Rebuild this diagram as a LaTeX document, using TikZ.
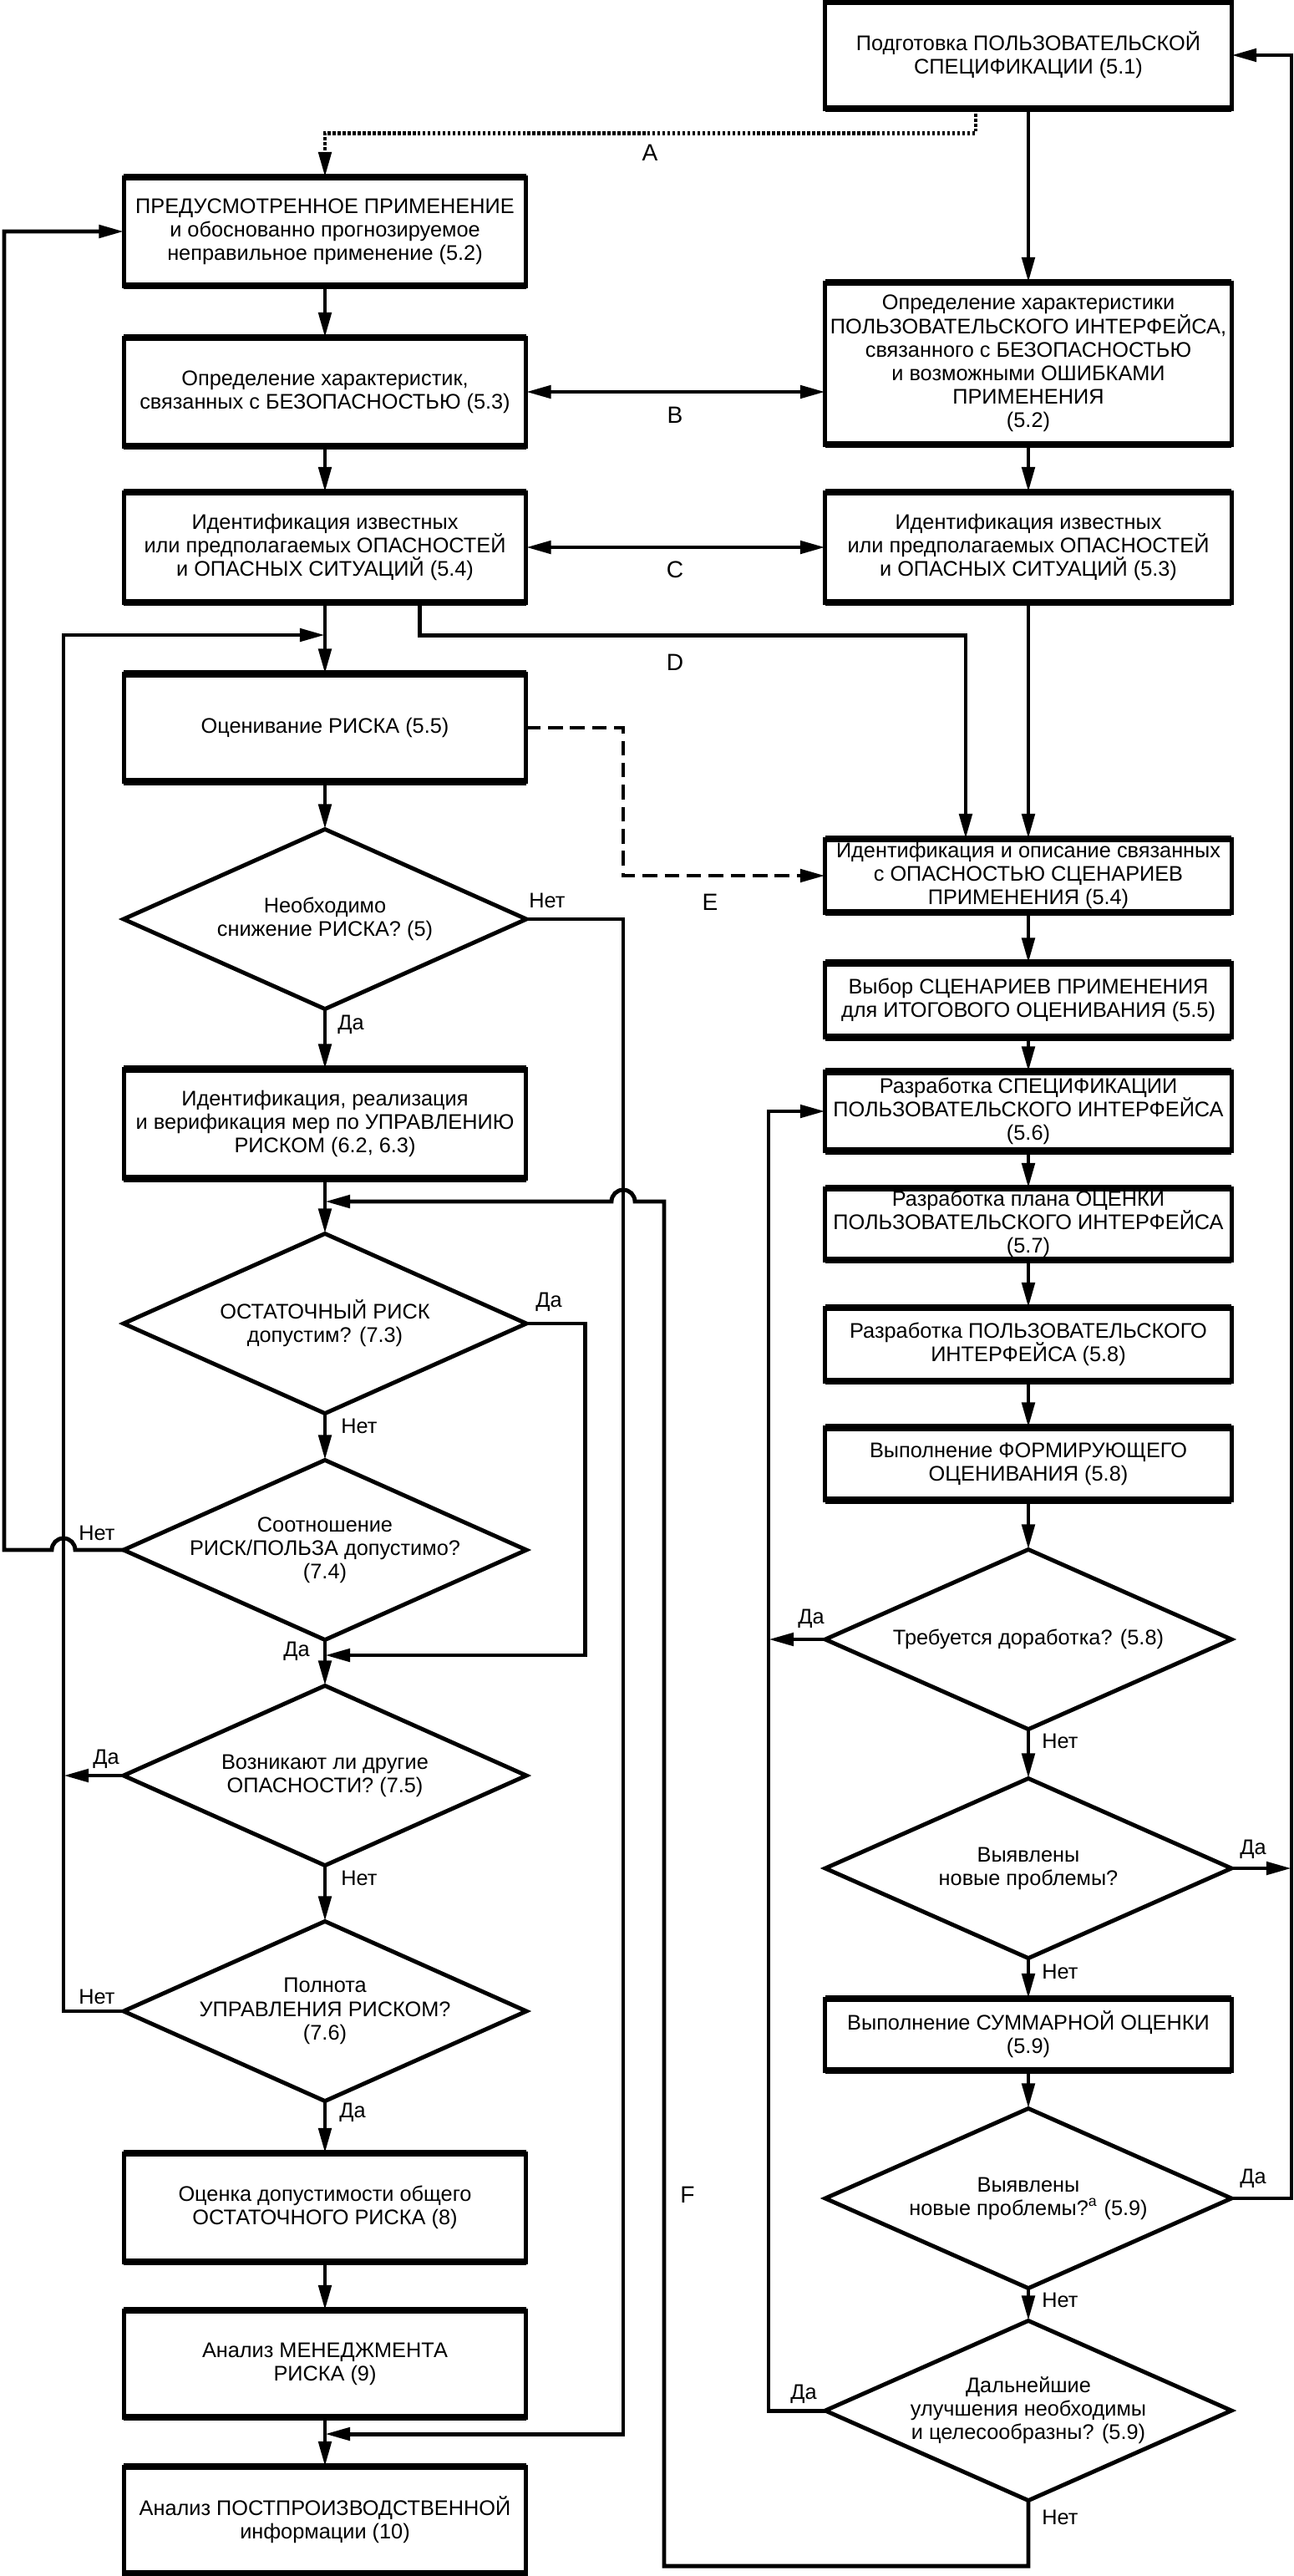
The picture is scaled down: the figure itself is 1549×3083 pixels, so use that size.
\documentclass[tikz,border=0pt]{standalone}
\usepackage{fontspec}
\setmainfont{Liberation Sans}
\usetikzlibrary{arrows.meta,shapes.geometric}
\newcommand\fs{\fontsize{7.2}{8}\selectfont}

\begin{document}
\begin{tikzpicture}[x=0.01cm,y=-0.01cm,
  every node/.style={font=\fs},
  lbox/.style={draw,rectangle,line width=1.4pt,minimum width=4.81cm,inner sep=0pt,outer sep=0pt,align=center},
  rbox/.style={lbox,minimum width=4.86cm},
  ldec/.style={draw,diamond,line width=1.4pt,minimum width=4.82cm,minimum height=2.15cm,inner sep=0pt,outer sep=0pt},
  rdec/.style={ldec,minimum width=4.86cm},
  dtext/.style={align=center,inner sep=0pt},
  conn/.style={line width=1.4pt},
  arr/.style={conn,-{Triangle[length=3mm,width=1.5mm]}},
  darr/.style={conn,{Triangle[length=3mm,width=1.5mm]}-{Triangle[length=3mm,width=1.5mm]}},
  rim/.style={line width=2.4pt},
  letter/.style={font=\fontsize{8}{9}\selectfont},
  lbl/.style={inner sep=1pt}]
\useasboundingbox (0,0) rectangle (1549,3083);

% Правая колонка
\node[rbox,minimum height=1.28cm] (us) at (1231,66) {Подготовка ПОЛЬЗОВАТЕЛЬСКОЙ\\СПЕЦИФИКАЦИИ (5.1)};
\node[rbox,minimum height=1.94cm] (ui) at (1231,435) {Определение характеристики\\ПОЛЬЗОВАТЕЛЬСКОГО ИНТЕРФЕЙСА,\\связанного с БЕЗОПАСНОСТЬЮ\\и возможными ОШИБКАМИ\\ПРИМЕНЕНИЯ\\(5.2)};
\node[rbox,minimum height=1.32cm] (hr) at (1231,655) {Идентификация известных\\или предполагаемых ОПАСНОСТЕЙ\\и ОПАСНЫХ СИТУАЦИЙ (5.3)};
\node[rbox,minimum height=0.88cm] (sc) at (1231,1048) {Идентификация и описание связанных\\с ОПАСНОСТЬЮ СЦЕНАРИЕВ\\ПРИМЕНЕНИЯ (5.4)};
\node[rbox,minimum height=0.89cm] (vs) at (1231,1197) {Выбор СЦЕНАРИЕВ ПРИМЕНЕНИЯ\\для ИТОГОВОГО ОЦЕНИВАНИЯ (5.5)};
\node[rbox,minimum height=0.95cm] (u6) at (1231,1330) {Разработка СПЕЦИФИКАЦИИ\\ПОЛЬЗОВАТЕЛЬСКОГО ИНТЕРФЕЙСА\\(5.6)};
\node[rbox,minimum height=0.86cm] (u7) at (1231,1465) {Разработка плана ОЦЕНКИ\\ПОЛЬЗОВАТЕЛЬСКОГО ИНТЕРФЕЙСА\\(5.7)};
\node[rbox,minimum height=0.88cm] (u8) at (1231,1609) {Разработка ПОЛЬЗОВАТЕЛЬСКОГО\\ИНТЕРФЕЙСА (5.8)};
\node[rbox,minimum height=0.87cm] (u9) at (1231,1752) {Выполнение ФОРМИРУЮЩЕГО\\ОЦЕНИВАНИЯ (5.8)};
\node[rdec] (d6) at (1231,1962) {};
\node[rdec] (d7) at (1231,2236) {};
\node[rbox,minimum height=0.86cm] (u10) at (1231,2435) {Выполнение СУММАРНОЙ ОЦЕНКИ\\(5.9)};
\node[rdec] (d8) at (1231,2631) {};
\node[rdec] (d9) at (1231,2885) {};

% Левая колонка
\node[lbox,minimum height=1.30cm] (pu) at (389,277) {ПРЕДУСМОТРЕННОЕ ПРИМЕНЕНИЕ\\и обоснованно прогнозируемое\\неправильное применение (5.2)};
\node[lbox,minimum height=1.30cm] (sf) at (389,469) {Определение характеристик,\\связанных с БЕЗОПАСНОСТЬЮ (5.3)};
\node[lbox,minimum height=1.32cm] (hl) at (389,655) {Идентификация известных\\или предполагаемых ОПАСНОСТЕЙ\\и ОПАСНЫХ СИТУАЦИЙ (5.4)};
\node[lbox,minimum height=1.29cm] (re) at (389,871) {Оценивание РИСКА (5.5)};
\node[ldec] (d1) at (389,1100) {};
\node[lbox,minimum height=1.31cm] (mc) at (389,1345) {Идентификация, реализация\\и верификация мер по УПРАВЛЕНИЮ\\РИСКОМ (6.2, 6.3)};
\node[ldec] (d2) at (389,1584) {};
\node[ldec] (d3) at (389,1855) {};
\node[ldec] (d4) at (389,2125) {};
\node[ldec] (d5) at (389,2407) {};
\node[lbox,minimum height=1.30cm] (ov) at (389,2642) {Оценка допустимости общего\\ОСТАТОЧНОГО РИСКА (8)};
\node[lbox,minimum height=1.28cm] (am) at (389,2829) {Анализ МЕНЕДЖМЕНТА\\РИСКА (9)};
\node[lbox,minimum height=1.28cm] (pp) at (389,3016) {Анализ ПОСТПРОИЗВОДСТВЕННОЙ\\информации (10)};

% Тексты ромбов
\node[dtext] (t1) at (d1) {Необходимо\\снижение РИСКА? (5)};
\node[dtext] (t2) at (d2) {ОСТАТОЧНЫЙ РИСК\\допустим? (7.3)};
\node[dtext] (t3) at (d3) {Соотношение\\РИСК/ПОЛЬЗА допустимо?\\(7.4)};
\node[dtext] (t4) at (d4) {Возникают ли другие\\ОПАСНОСТИ? (7.5)};
\node[dtext] (t5) at (d5) {Полнота\\УПРАВЛЕНИЯ РИСКОМ?\\(7.6)};
\node[dtext] (t6) at (d6) {Требуется доработка? (5.8)};
\node[dtext] (t7) at (d7) {Выявлены\\новые проблемы?};
\node[dtext] (t8) at (d8) {Выявлены\\новые проблемы?\textsuperscript{a} (5.9)};
\node[dtext] (t9) at (d9) {Дальнейшие\\улучшения необходимы\\и целесообразны? (5.9)};

% Толстые верхние и нижние кромки
\foreach \n in {us,ui,hr,sc,vs,u6,u7,u8,u9,u10,pu,sf,hl,re,mc,ov,am,pp}
  \draw[rim] (\n.north west) -- (\n.north east) (\n.south west) -- (\n.south east);

% Точки поворота
\coordinate (jn) at (389,760);
\coordinate (j2) at (389,1438);
\coordinate (j3) at (389,1981);
\coordinate (j9) at (389,2913);
\coordinate (ox) at (5,0);
\coordinate (lx) at (76,0);
\coordinate (mx) at (746,0);
\coordinate (fx) at (795,3071);
\coordinate (rx) at (920,0);
\coordinate (qx) at (1546,0);
\coordinate (h1) at (760,1438);
\coordinate (h2) at (90,1855);

% Связи правой колонки
\draw[arr] (us) -- (ui);
\draw[arr] (ui) -- (hr);
\draw[arr] (hr) -- (sc);
\draw[arr] (sc) -- (vs);
\draw[arr] (vs) -- (u6);
\draw[arr] (u6) -- (u7);
\draw[arr] (u7) -- (u8);
\draw[arr] (u8) -- (u9);
\draw[arr] (u9) -- (d6);
\draw[arr] (d6) -- (d7);
\draw[arr] (d7) -- (u10);
\draw[arr] (u10) -- (d8);
\draw[arr] (d8) -- (d9);
\draw[arr] (d6.west) -- (d6.west -| rx);
\draw[arr] (d9.west) -- (d9.west -| rx) |- (u6.west);
\draw[arr] (d7.east) -- (d7.east -| qx);
\draw[arr] (d8.east) -- (d8.east -| qx) |- (us.east);

% Связи левой колонки
\draw[arr] (pu) -- (sf);
\draw[arr] (sf) -- (hl);
\draw[arr] (hl) -- (re);
\draw[arr] (re) -- (d1);
\draw[arr] (d1) -- (mc);
\draw[arr] (mc) -- (d2);
\draw[arr] (d2) -- (d3);
\draw[arr] (d3) -- (d4);
\draw[arr] (d4) -- (d5);
\draw[arr] (d5) -- (ov);
\draw[arr] (ov) -- (am);
\draw[arr] (am) -- (pp);
\draw[arr] (d2.east) -- ++(70,0) |- (j3);
\draw[arr] (d4.west) -- (d4.west -| lx);
\draw[arr] (d5.west) -- (d5.west -| lx) |- (jn);
\draw[arr] (d3.west) -- (h2) arc[start angle=0,end angle=180,radius=0.14cm] -- (ox |- d3.west) |- (pu.west);
\draw[arr] (d1.east) -- (d1.east -| mx) |- (j9);

% Связи между колонками
\draw[conn,-{Triangle[length=3mm,width=1.5mm]},dash pattern=on 1pt off 0.7pt] ([xshift=-0.63cm]us.south) -- ++(0,29) -| (pu.north);
\draw[darr] (sf.east) -- (sf.east -| ui.west);
\draw[darr] (hl.east) -- (hr.west);
\draw[arr] ([xshift=1.13cm]hl.south) -- ++(0,39) -| ([xshift=-0.75cm]sc.north);
\draw[arr,dash pattern=on 5pt off 2.5pt] (re.east) -- (re.east -| mx) |- (sc.west);
\draw[arr] (d9.south) |- (fx) -- (fx |- j2) -- (h1) arc[start angle=0,end angle=180,radius=0.14cm] -- (j2);

% Буквы
\node[letter] (la) at (778,183) {A};
\node[letter] (lb) at (808,497) {B};
\node[letter] (lc) at (808,682) {C};
\node[letter] (ld) at (808,793) {D};
\node[letter] (le) at (850,1080) {E};
\node[letter] (lf) at (823,2627) {F};

% Да / Нет
\node[lbl] (n1) at (655,1078) {Нет};
\node[lbl] (y1) at (420,1226) {Да};
\node[lbl] (y2) at (657,1558) {Да};
\node[lbl] (n2) at (430,1707) {Нет};
\node[lbl] (n3) at (116,1835) {Нет};
\node[lbl] (y3) at (355,1976) {Да};
\node[lbl] (y4) at (127,2105) {Да};
\node[lbl] (n4) at (430,2248) {Нет};
\node[lbl] (n5) at (116,2390) {Нет};
\node[lbl] (y5) at (422,2528) {Да};
\node[lbl] (y6) at (971,1937) {Да};
\node[lbl] (n6) at (1269,2084) {Нет};
\node[lbl] (y7) at (1500,2213) {Да};
\node[lbl] (n7) at (1269,2360) {Нет};
\node[lbl] (y8) at (1500,2607) {Да};
\node[lbl] (n8) at (1269,2753) {Нет};
\node[lbl] (y9) at (962,2865) {Да};
\node[lbl] (n9) at (1269,3013) {Нет};
\end{tikzpicture}
\end{document}
